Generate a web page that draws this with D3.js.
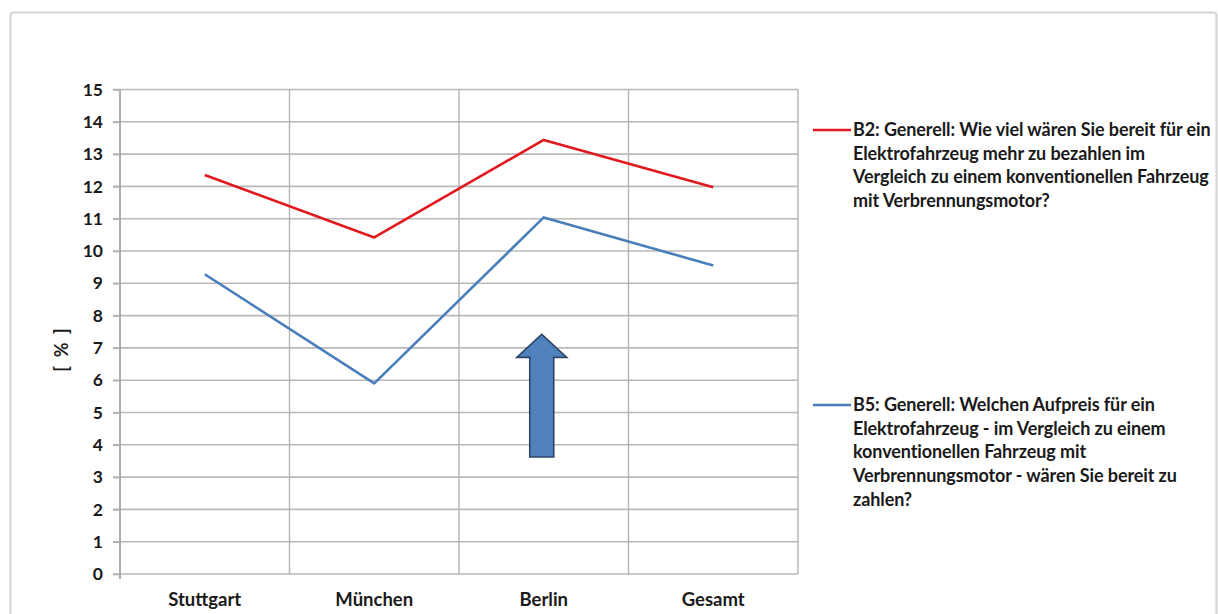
<!DOCTYPE html>
<html>
<head>
<meta charset="utf-8">
<script src="https://cdn.jsdelivr.net/npm/d3@7"></script>
<style>
  html, body { margin: 0; padding: 0; background: #fff; }
  svg { display: block; font-family: Lato, "Open Sans", sans-serif; }
</style>
</head>
<body>
<svg id="chart" width="1218" height="614"></svg>
<script>
// Cities surveyed plus the overall figure
const categories = ["Stuttgart", "München", "Berlin", "Gesamt"];
// Question B2: extra amount willing to pay (%)
const seriesB2 = [12.35, 10.42, 13.44, 11.97];
// Question B5: surcharge willing to pay (%)
const seriesB5 = [9.28, 5.9, 11.04, 9.55];
const yTicks = [0, 1, 2, 3, 4, 5, 6, 7, 8, 9, 10, 11, 12, 13, 14, 15];
const legendB2 = [
  "B2: Generell: Wie viel wären Sie bereit für ein",
  "Elektrofahrzeug mehr zu bezahlen im",
  "Vergleich zu einem konventionellen Fahrzeug",
  "mit Verbrennungsmotor?"
];
const legendB5 = [
  "B5: Generell: Welchen Aufpreis für ein",
  "Elektrofahrzeug - im Vergleich zu einem",
  "konventionellen Fahrzeug mit",
  "Verbrennungsmotor - wären Sie bereit zu",
  "zahlen?"
];
// Arrow annotation over Berlin: from base value up to tip value
const arrowRange = [3.62, 7.42];

const FONT = "Lato, 'Open Sans', sans-serif";
const svg = d3.select("#chart");
const plot = { left: 120, right: 798, top: 89.5, bottom: 574 };

// outer frame
svg.append("rect")
  .attr("x", 10.5).attr("y", 12.5)
  .attr("width", 1206).attr("height", 640)
  .attr("rx", 3)
  .attr("fill", "#fff")
  .attr("stroke", "#d4d4d4")
  .attr("stroke-width", 2);

const x = d3.scaleBand().domain(categories).range([plot.left, plot.right]);
const y = d3.scaleLinear().domain([0, 15]).range([plot.bottom, plot.top]);

// horizontal gridlines
svg.append("g")
  .selectAll("line")
  .data(yTicks)
  .join("line")
  .attr("x1", plot.left - 7).attr("x2", plot.right)
  .attr("y1", d => y(d)).attr("y2", d => y(d))
  .attr("stroke", "#b9b9b9")
  .attr("stroke-width", 1.6);

// vertical gridlines at category boundaries
const bounds = categories.map(c => x(c) + x.bandwidth()).slice(0, -1).concat([plot.right]);
svg.append("g")
  .selectAll("line")
  .data(bounds)
  .join("line")
  .attr("x1", d => d).attr("x2", d => d)
  .attr("y1", plot.top).attr("y2", plot.bottom)
  .attr("stroke", "#b3b3b3")
  .attr("stroke-width", 1.4);

// y axis
const yAxis = svg.append("g")
  .attr("transform", `translate(${plot.left},0)`)
  .call(d3.axisLeft(y).tickValues(yTicks).tickSize(7).tickPadding(10).tickFormat(d3.format("d")))
  .attr("font-family", FONT);
yAxis.select(".domain").attr("stroke", "#9a9a9a").attr("stroke-width", 1.6)
  .attr("d", `M0,${plot.top}V${plot.bottom + 5}`);
yAxis.selectAll(".tick line").attr("stroke", "#b0b0b0").attr("stroke-width", 1.6);
yAxis.selectAll(".tick text")
  .attr("font-size", 17.5).attr("font-weight", "bold").attr("fill", "#1a1a1a");

// x axis labels
const xAxis = svg.append("g")
  .attr("transform", `translate(0,${plot.bottom})`)
  .call(d3.axisBottom(x).tickSize(0).tickPadding(19))
  .attr("font-family", FONT);
xAxis.select(".domain").remove();
xAxis.selectAll(".tick text")
  .attr("font-size", 18.5).attr("font-weight", "bold").attr("fill", "#1a1a1a");

// y axis title
svg.append("text")
  .attr("transform", `translate(68,350) rotate(-90)`)
  .attr("text-anchor", "middle")
  .attr("font-size", 18).attr("font-weight", "bold").attr("fill", "#1a1a1a")
  .attr("xml:space", "preserve")
  .style("white-space", "pre")
  .text("[  %  ]");

const line = d3.line()
  .x((d, i) => x(categories[i]) + x.bandwidth() / 2)
  .y(d => y(d));

svg.append("path")
  .datum(seriesB5)
  .attr("d", line)
  .attr("fill", "none")
  .attr("stroke", "#4a7ebb")
  .attr("stroke-width", 2.6)
  .attr("stroke-linejoin", "round");

svg.append("path")
  .datum(seriesB2)
  .attr("d", line)
  .attr("fill", "none")
  .attr("stroke", "#e0191e")
  .attr("stroke-width", 2.6)
  .attr("stroke-linejoin", "round");

// block arrow above Berlin
const ax = x("Berlin") + x.bandwidth() / 2 - 2;
const yBase = y(arrowRange[0]), yTip = y(arrowRange[1]);
const headH = 23, headHalf = 25, shaftHalf = 12;
const arrowPts = [
  [ax, yTip],
  [ax + headHalf, yTip + headH],
  [ax + shaftHalf, yTip + headH],
  [ax + shaftHalf, yBase],
  [ax - shaftHalf, yBase],
  [ax - shaftHalf, yTip + headH],
  [ax - headHalf, yTip + headH]
];
svg.append("path")
  .attr("d", d3.line()(arrowPts) + "Z")
  .attr("fill", "#4f81bd")
  .attr("stroke", "#2c4566")
  .attr("stroke-width", 1.6)
  .attr("stroke-linejoin", "miter");

// legend
function legend(lines, color, y0) {
  const g = svg.append("g");
  g.append("line")
    .attr("x1", 813).attr("x2", 851)
    .attr("y1", y0).attr("y2", y0)
    .attr("stroke", color).attr("stroke-width", 2.6);
  g.selectAll("text")
    .data(lines)
    .join("text")
    .attr("x", 853)
    .attr("y", (d, i) => y0 + 6 + i * 23.7)
    .attr("font-size", 18).attr("font-weight", "bold").attr("fill", "#1a1a1a")
    .attr("letter-spacing", -0.1)
    .text(d => d);
}
legend(legendB2, "#e0191e", 130);
legend(legendB5, "#4a7ebb", 405);
</script>
</body>
</html>
